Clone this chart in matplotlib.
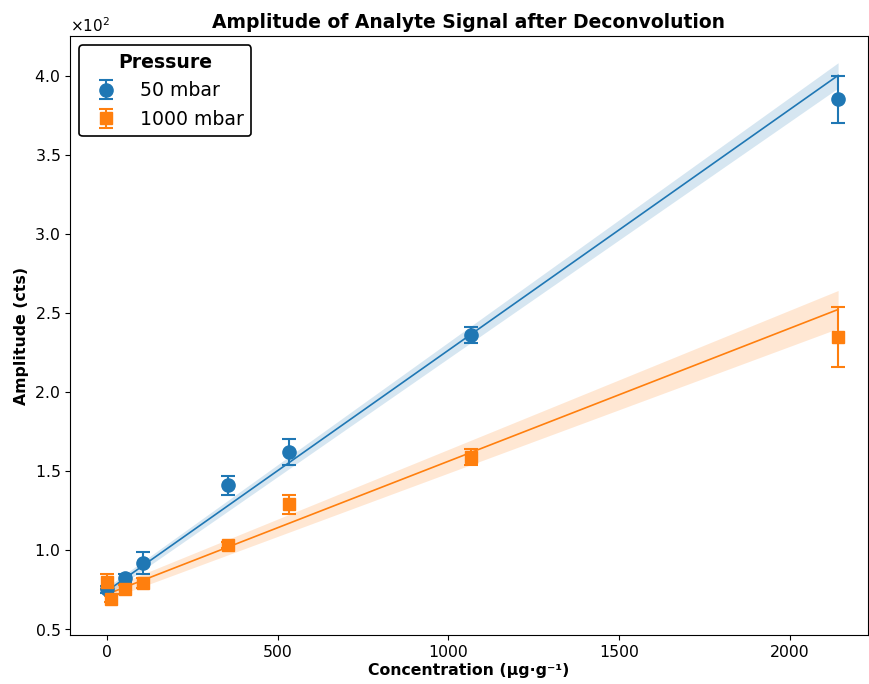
import matplotlib
matplotlib.use("Agg")
import matplotlib.pyplot as plt
import numpy as np

# concentrations (ug/g) and amplitudes (cts)
conc_50 = [0, 53, 107, 355, 533, 1066, 2141]
amp_50 = [75, 82, 92, 141, 162, 236, 385]
err_50 = [2, 3, 7, 6, 8, 5, 15]

conc_1000 = [0, 13, 53, 107, 355, 533, 1066, 2141]
amp_1000 = [80, 69, 75, 79, 103, 129, 159, 234.5]
err_1000 = [5, 2, 3, 3, 2, 6, 5, 19]

# linear fit: intercept, slope, band half-width at x=0 and at x=max
fit_50 = [74, 0.1523, 2.5, 8]
fit_1000 = [72, 0.0841, 3.5, 12]

blue = "#1f77b4"
orange = "#ff7f0e"

fig = plt.figure(figsize=(8.7, 6.84), dpi=100)
ax = fig.add_axes([0.0805, 0.0716, 0.917, 0.8758])


def draw(conc, amp, err, fit, color, marker, ms, label):
    x = np.linspace(0, max(conc), 100)
    y = fit[0] + fit[1] * x
    hw = fit[2] + (fit[3] - fit[2]) * x / max(conc)
    ax.fill_between(x, y - hw, y + hw, color=color, alpha=0.18, lw=0)
    ax.plot(x, y, color=color, lw=1.2)
    ax.errorbar(conc, amp, yerr=err, fmt=marker, color=color, ms=ms,
                capsize=5, elinewidth=1.5, capthick=1.5, label=label)


draw(conc_50, amp_50, err_50, fit_50, blue, "o", 9.5, "50 mbar")
draw(conc_1000, amp_1000, err_1000, fit_1000, orange, "s", 9, "1000 mbar")

ax.set_xlim(-108, 2228)
ax.set_ylim(46.2, 425)
ax.set_xticks([0, 500, 1000, 1500, 2000])
ax.ticklabel_format(axis="y", style="sci", scilimits=(0, 0), useMathText=True)
ax.yaxis.get_offset_text().set_fontsize(11)
ax.tick_params(labelsize=11.3)
ax.set_xlabel("Concentration (µg·g⁻¹)", fontweight="bold", fontsize=11.3, labelpad=2)
ax.set_ylabel("Amplitude (cts)", fontweight="bold", fontsize=11.3)
ax.set_title("Amplitude of Analyte Signal after Deconvolution", fontweight="bold", fontsize=13.5)

leg = ax.legend(title="Pressure", loc="upper left", fontsize=13.6,
                title_fontproperties={"weight": "bold", "size": 13.6},
                edgecolor="black", framealpha=1)
leg.get_frame().set_linewidth(1.2)

fig.savefig("out.png", dpi=100)
